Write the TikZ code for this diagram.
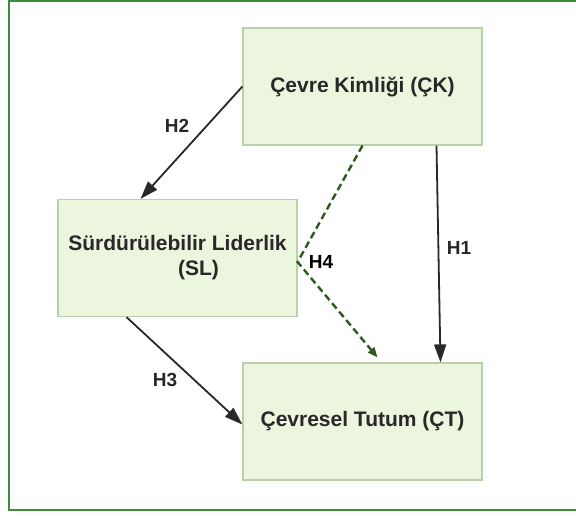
\documentclass[tikz,border=0pt]{standalone}
\usepackage{fontspec}
\setmainfont{Liberation Sans}
\usetikzlibrary{arrows.meta, positioning}
\definecolor{boxfill}{RGB}{236,245,222}
\definecolor{boxline}{RGB}{185,208,170}
\definecolor{frameline}{RGB}{60,140,60}
\definecolor{arrowgray}{RGB}{40,40,40}
\definecolor{dashgreen}{RGB}{45,90,30}
\tikzset{
    construct/.style={draw=boxline, line width=1.2pt, fill=boxfill, align=center, text=arrowgray,
        font=\fontsize{21}{25}\selectfont\bfseries, minimum width=239pt, minimum height=117pt, inner sep=0pt},
    hyp/.style={font=\fontsize{19}{22}\selectfont\bfseries, text=arrowgray, inner sep=1pt},
    arrow/.style={-{Triangle[length=18pt,width=12pt]}, line width=1.8pt, draw=arrowgray},
    mediation/.style={-{Triangle[length=10pt,width=8pt]}, line width=2.4pt, draw=dashgreen, dash pattern=on 7pt off 4pt}
}
\begin{document}
\begin{tikzpicture}[x=1pt, y=-1pt]
    \useasboundingbox (0,0) rectangle (576,515);
    \draw[frameline, line width=2.5pt] (9,1) rectangle (590,510);

    \node (ck) [construct] at (362.5,86.5) {Çevre Kimliği (ÇK)};
    \node (sl) [construct] at (177.5,258) {Sürdürülebilir Liderlik\\\hspace*{42pt}(SL)};
    \node (ct) [construct] at (362.5,421.5) {Çevresel Tutum (ÇT)};

    \draw [arrow] (ck.west) -- ([xshift=-37pt]sl.north);
    \draw [arrow] ([xshift=74pt]ck.south) -- ([xshift=78pt]ct.north);
    \draw [arrow] ([xshift=-51pt]sl.south) -- ([yshift=-3pt]ct.west);
    \draw [mediation] (ck.south) -- ([yshift=-4pt]sl.east) -- ([xshift=15pt, yshift=5pt]ct.north);

    \node (h2) [hyp] at (177,126) {H2};
    \node (h1) [hyp] at (459,248) {H1};
    \node (h3) [hyp] at (165,380) {H3};
    \node (h4) [hyp, text=black] at (321,262) {H4};
\end{tikzpicture}
\end{document}
